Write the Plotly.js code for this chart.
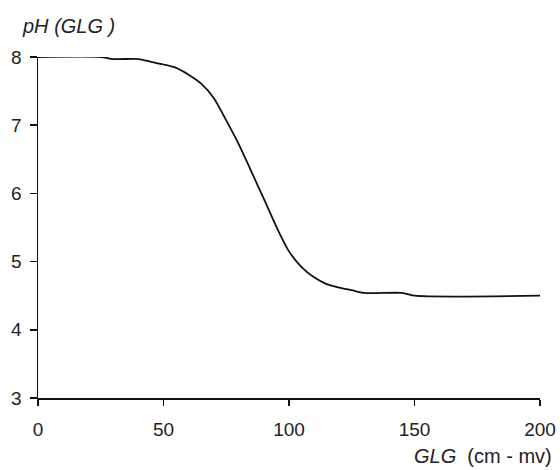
<!DOCTYPE html>
<html>
<head>
<meta charset="utf-8">
<script src="https://cdn.plot.ly/plotly-3.0.1.min.js"></script>
<style>html,body{margin:0;padding:0;background:#fff;}#chart{width:560px;height:470px;}</style>
</head>
<body>
<div id="chart"></div>
<script>
// GLG (cm - mv)
const glg = [0, 25, 30, 40, 45, 50, 55, 60, 65, 70, 75, 80, 85, 90, 95, 100, 105, 110, 115, 120, 125, 130, 145, 150, 200];
// pH at GLG
const ph  = [8.00, 8.00, 7.97, 7.97, 7.93, 7.89, 7.84, 7.74, 7.61, 7.40, 7.07, 6.72, 6.32, 5.92, 5.51, 5.15, 4.92, 4.77, 4.67, 4.62, 4.58, 4.54, 4.54, 4.50, 4.50];
const xTicks = [0, 50, 100, 150, 200];
const yTicks = [3, 4, 5, 6, 7, 8];

const font = {family: 'Liberation Sans, Arial, sans-serif', size: 19, color: '#222'};
const titleFont = {family: 'Liberation Sans, Arial, sans-serif', size: 20, color: '#222'};

Plotly.newPlot('chart', [{
  x: glg, y: ph, type: 'scatter', mode: 'lines',
  line: {color: '#111', width: 1.8, shape: 'spline', smoothing: 0.8},
  hoverinfo: 'skip', showlegend: false
}], {
  width: 560, height: 470,
  margin: {l: 38, r: 20, t: 57, b: 72},
  paper_bgcolor: '#fff', plot_bgcolor: '#fff',
  font: font,
  xaxis: {
    range: [0, 200], tickvals: xTicks, ticktext: xTicks.map(String),
    showgrid: false, zeroline: false, showline: true, linecolor: '#111', linewidth: 1.5,
    ticks: 'outside', ticklen: 6, tickcolor: '#111', tickwidth: 1.5,
    ticklabelstandoff: 8, tickfont: font
  },
  yaxis: {
    range: [3, 8], tickvals: yTicks, ticktext: yTicks.map(String),
    showgrid: false, zeroline: false, showline: true, linecolor: '#111', linewidth: 1.5,
    ticks: 'outside', ticklen: 7, tickcolor: '#111', tickwidth: 1.5,
    ticklabelstandoff: 4, tickfont: font
  },
  annotations: [
    {xref: 'paper', yref: 'paper', x: -0.036, y: 1.091, xanchor: 'left', yanchor: 'middle',
     text: '<i>pH</i> <i>(GLG )</i>', showarrow: false, font: titleFont},
    {xref: 'paper', yref: 'paper', x: 1.028, y: -0.170, xanchor: 'right', yanchor: 'middle',
     text: '<i>GLG</i>  (cm - mv)', showarrow: false, font: titleFont}
  ]
}, {displayModeBar: false, staticPlot: true});
</script>
</body>
</html>
